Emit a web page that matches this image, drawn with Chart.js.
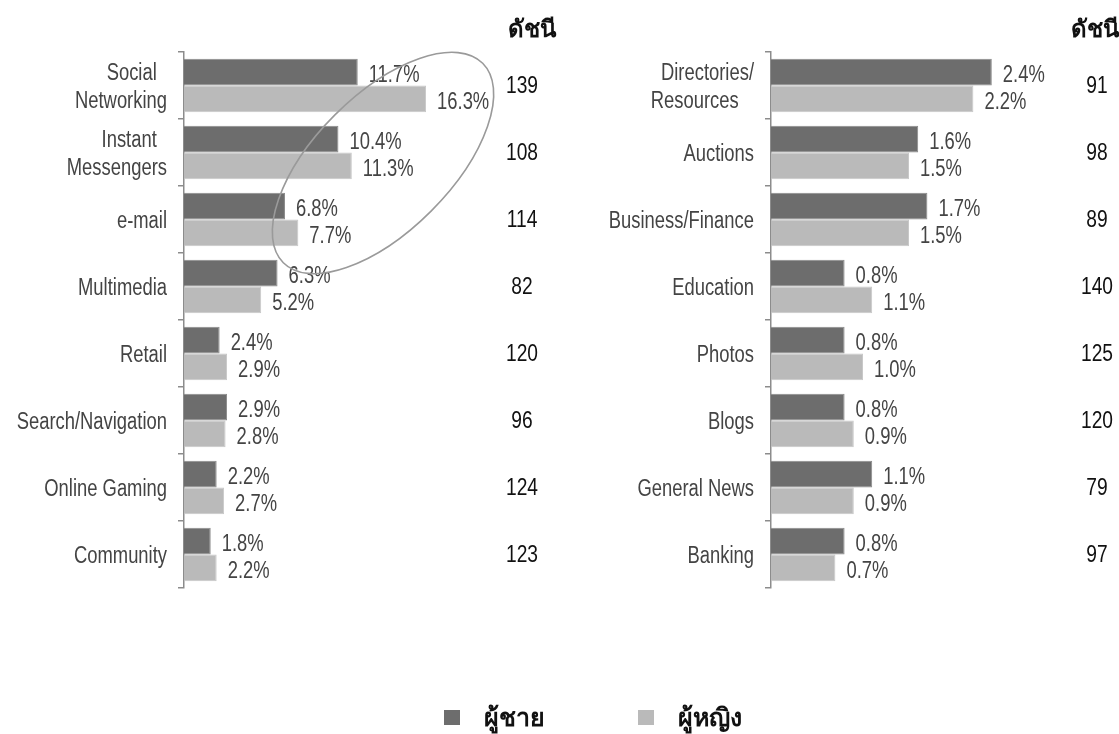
<!DOCTYPE html>
<html>
<head>
<meta charset="utf-8">
<script src="https://cdn.jsdelivr.net/npm/chart.js@4.4.0/dist/chart.umd.min.js"></script>
<style>
  body { margin: 0; background: #fff; }
  #wrap { position: relative; width: 1119px; height: 734px; overflow: hidden; }
  canvas { position: absolute; top: 0; }
  .legend { position: absolute; top: 700px; height: 34px; display: flex; align-items: center;
            font: bold 25px "Noto Sans", "DejaVu Sans", sans-serif; color: #111; }
  .legend span.sw { display: inline-block; width: 16px; height: 15px; margin-right: 24px; }
</style>
</head>
<body>
<div id="wrap">
  <canvas id="leftChart" width="560" height="734" style="left:0"></canvas>
  <canvas id="rightChart" width="559" height="734" style="left:560px"></canvas>
  <div class="legend" style="left:444px"><span class="sw" style="background:#6d6d6d"></span>ผู้ชาย</div>
  <div class="legend" style="left:638px"><span class="sw" style="background:#bababa"></span>ผู้หญิง</div>
</div>
<script>
// left panel
var leftCats = [['Social  ', 'Networking'], ['Instant  ', 'Messengers'], 'e-mail', 'Multimedia',
    'Retail', 'Search/Navigation', 'Online Gaming', 'Community'];
var leftMale = [11.7, 10.4, 6.8, 6.3, 2.4, 2.9, 2.2, 1.8];
var leftFemale = [16.3, 11.3, 7.7, 5.2, 2.9, 2.8, 2.7, 2.2];
var leftIndex = [139, 108, 114, 82, 120, 96, 124, 123];

// right panel
var rightCats = [['Directories/', 'Resources   '], 'Auctions', 'Business/Finance', 'Education',
    'Photos', 'Blogs', 'General News', 'Banking'];
var rightMale = [2.4, 1.6, 1.7, 0.8, 0.8, 0.8, 1.1, 0.8];
var rightFemale = [2.2, 1.5, 1.5, 1.1, 1.0, 0.9, 0.9, 0.7];
var rightIndex = [91, 98, 89, 140, 125, 120, 79, 97];

var seriesNames = ['ผู้ชาย', 'ผู้หญิง'];
var indexTitle = 'ดัชนี';

var FONT = '"Liberation Sans", Arial, sans-serif';
var THAI = '"Noto Sans", "DejaVu Sans", sans-serif';
var SQUEEZE = 0.8; // source text is tall and narrow

function squeezedText(ctx, text, x, y) {
    ctx.save();
    ctx.translate(x, y);
    ctx.scale(SQUEEZE, 1);
    ctx.fillText(text, 0, 0);
    ctx.restore();
}

// category names, drawn narrow like the source
var catLabels = {
    id: 'catLabels',
    afterDraw: function(chart) {
        var ctx = chart.ctx;
        var y = chart.scales.y;
        ctx.save();
        ctx.font = '23px ' + FONT;
        ctx.fillStyle = '#444';
        ctx.textAlign = 'right';
        ctx.textBaseline = 'middle';
        chart.data.labels.forEach(function(lab, i) {
            var lines = Array.isArray(lab) ? lab : [lab];
            var cy = y.getPixelForValue(i);
            lines.forEach(function(line, k) {
                var off = (k - (lines.length - 1) / 2) * 28;
                squeezedText(ctx, line, y.right - 17, cy + off + 2);
            });
        });
        ctx.restore();
    }
};

// value labels next to the bars
var valueLabels = {
    id: 'valueLabels',
    afterDatasetsDraw: function(chart) {
        var ctx = chart.ctx;
        ctx.save();
        ctx.font = '23px ' + FONT;
        ctx.fillStyle = '#444';
        ctx.textBaseline = 'middle';
        chart.data.datasets.forEach(function(ds, di) {
            chart.getDatasetMeta(di).data.forEach(function(bar, i) {
                squeezedText(ctx, ds.data[i].toFixed(1) + '%', bar.x + 11, bar.y + 4);
            });
        });
        ctx.restore();
    }
};

// index column + title
var indexColumn = {
    id: 'indexColumn',
    afterDraw: function(chart, args, opts) {
        var ctx = chart.ctx;
        var y = chart.scales.y;
        ctx.save();
        ctx.fillStyle = '#111';
        ctx.font = 'bold 24px ' + THAI;
        ctx.textAlign = 'right';
        ctx.textBaseline = 'middle';
        ctx.fillText(indexTitle, opts.titleRight, 30);
        ctx.font = '24px ' + FONT;
        ctx.textAlign = 'center';
        opts.values.forEach(function(v, i) {
            squeezedText(ctx, String(v), opts.x, y.getPixelForValue(i) + 1);
        });
        ctx.restore();
    }
};

// hand drawn ellipse over the top three groups
var ellipse = {
    id: 'ellipse',
    afterDraw: function(chart) {
        var ctx = chart.ctx;
        ctx.save();
        ctx.strokeStyle = '#9a9a9a';
        ctx.lineWidth = 1.6;
        ctx.beginPath();
        ctx.ellipse(383, 163, 141, 68, -Math.PI / 4, 0, Math.PI * 2);
        ctx.stroke();
        ctx.restore();
    }
};

function makeChart(id, cats, male, female, idx, xMax, axisWidth, padRight, idxX, titleRight, extra) {
    return new Chart(document.getElementById(id), {
        type: 'bar',
        data: {
            labels: cats,
            datasets: [{
                label: seriesNames[0],
                data: male,
                backgroundColor: '#6d6d6d',
                borderColor: '#8a8a8a',
                borderWidth: 1,
                categoryPercentage: 0.8,
                barPercentage: 1.0
            }, {
                label: seriesNames[1],
                data: female,
                backgroundColor: '#bababa',
                borderColor: '#c8c8c8',
                borderWidth: 1,
                categoryPercentage: 0.8,
                barPercentage: 1.0
            }]
        },
        options: {
            indexAxis: 'y',
            responsive: false,
            animation: false,
            layout: { padding: { top: 52, bottom: 146, left: 0, right: padRight } },
            plugins: {
                legend: { display: false },
                tooltip: { enabled: false },
                indexColumn: { values: idx, x: idxX, titleRight: titleRight }
            },
            scales: {
                x: { display: false, min: 0, max: xMax },
                y: {
                    afterFit: function(axis) { axis.width = axisWidth; },
                    border: { display: true, color: '#8c8c8c', width: 1.5 },
                    grid: { display: true, offset: true, drawOnChartArea: false, tickLength: 6, color: '#8c8c8c', lineWidth: 1.5 },
                    ticks: { display: false }
                }
            }
        },
        plugins: [catLabels, valueLabels, indexColumn].concat(extra)
    });
}

makeChart('leftChart', leftCats, leftMale, leftFemale, leftIndex, 20, 184, 79, 522, 556, [ellipse]);
makeChart('rightChart', rightCats, rightMale, rightFemale, rightIndex, 3, 211, 72, 537, 559, []);
</script>
</body>
</html>
